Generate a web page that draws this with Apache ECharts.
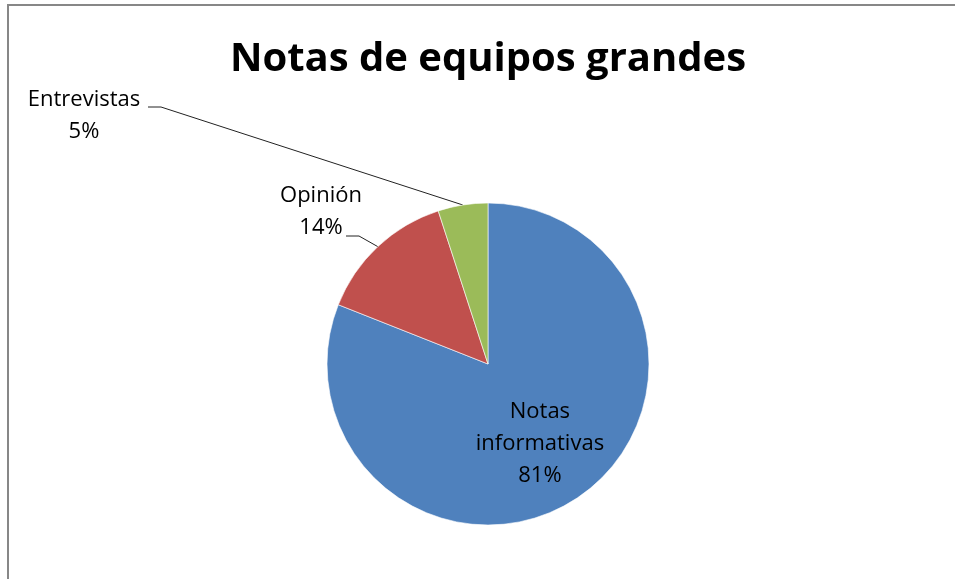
<html>
<head>
    <meta charset="utf-8">
    <script src='https://cdn.jsdelivr.net/npm/echarts@6/dist/echarts.min.js'></script>
</head>
<body>
<div id='frame'></div>
<div id='main'></div>
<style>
    html, body {
        margin: 0;
        padding: 0;
        width: 100%;
        height: 100%;
        overflow: hidden;
        background: #fff;
    }

    #frame {
        position: absolute;
        left: 7px;
        top: 4px;
        width: 2000px;
        height: 2000px;
        border-left: 2px solid #878787;
        border-top: 2px solid #878787;
    }

    #main {
        position: absolute;
        left: 0;
        top: 0;
        width: 955px;
        height: 579px;
    }
</style>

<script>
    // data
    var categories = ['Notas informativas', 'Opinión', 'Entrevistas'];
    var values = [81, 14, 5];
    var colors = ['#4F81BD', '#C0504D', '#9BBB59'];

    // pie geometry (px)
    var cx = 488, cy = 364, r = 161;

    // where the outside labels were dragged to: [textX, textY, lineStartX, lineStartY]
    var labelSpots = [null, [321, 212, 346, 236], [84, 116, 148, 107]];

    var total = 0;
    for (var i = 0; i < values.length; i++) total += values[i];

    function midAngle(idx) {
        var before = 0;
        for (var j = 0; j < idx; j++) before += values[j];
        return (before + values[idx] / 2) / total * 2 * Math.PI;
    }

    var chart = echarts.init(document.getElementById('main'));

    var pieData = [];
    for (var i = 0; i < categories.length; i++) {
        pieData.push({
            name: categories[i],
            value: values[i],
            itemStyle: {color: colors[i]},
            label: i === 0 ? {position: 'inside'} : {position: 'outside'}
        });
    }

    var option = {
        animation: false,
        title: {
            text: 'Notas de equipos grandes',
            left: cx - 5,
            textAlign: 'center',
            top: 35,
            textStyle: {
                fontFamily: 'Open Sans',
                fontWeight: 'bold',
                fontSize: 40,
                color: '#000'
            }
        },
        series: [{
            type: 'pie',
            center: [cx, cy],
            radius: [0, r],
            startAngle: 90,
            clockwise: true,
            avoidLabelOverlap: false,
            emphasis: {disabled: true},
            itemStyle: {borderColor: '#ffffff', borderWidth: 0.6},
            label: {
                color: '#000',
                fontFamily: 'Open Sans',
                fontSize: 22,
                lineHeight: 32,
                align: 'center',
                formatter: function (p) {
                    var name = p.dataIndex === 0 ? p.name.replace(' ', '\n') : p.name;
                    return name + '\n' + p.percent + '%';
                }
            },
            labelLine: {
                show: true,
                lineStyle: {color: '#222', width: 1}
            },
            labelLayout: function (p) {
                var spot = labelSpots[p.dataIndex];
                if (!spot) return {dx: 5, dy: 11};
                var a = midAngle(p.dataIndex);
                var ex = cx + r * Math.sin(a);
                var ey = cy - r * Math.cos(a);
                return {
                    x: spot[0],
                    y: spot[1],
                    align: 'center',
                    verticalAlign: 'middle',
                    labelLinePoints: [[ex, ey], [spot[2] + 13, spot[3]], [spot[2], spot[3]]]
                };
            },
            data: pieData
        }]
    };

    chart.setOption(option);
</script>
</body>
</html>
